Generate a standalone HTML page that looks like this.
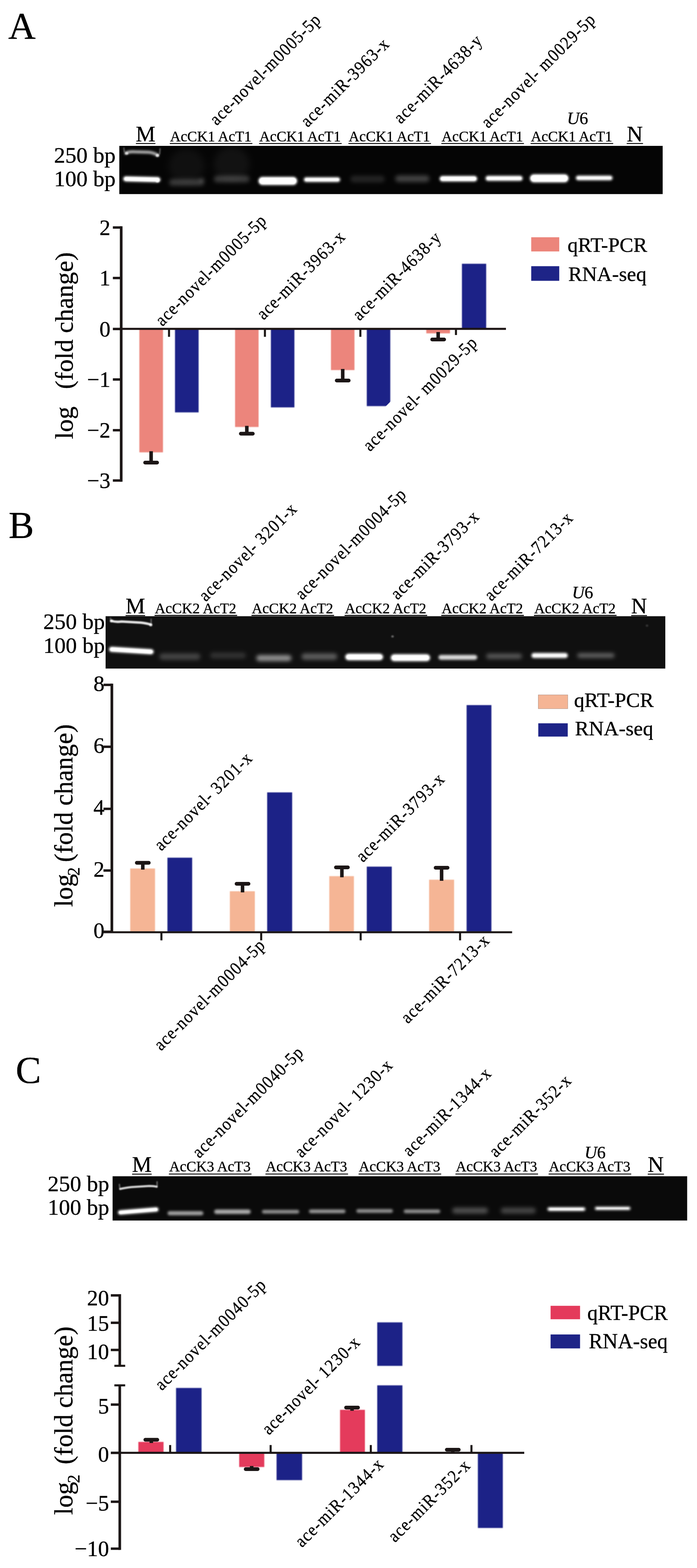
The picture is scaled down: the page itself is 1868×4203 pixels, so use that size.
<!DOCTYPE html>
<html lang="en">
<head>
<meta charset="utf-8">
<title>Figure: qRT-PCR and RNA-seq validation</title>
<style>
html,body{margin:0;padding:0;background:#fff;}
body{width:1868px;height:4203px;overflow:hidden;}
svg{display:block;}
svg text{font-family:"Liberation Serif","DejaVu Serif",serif;fill:#000;stroke:#000;stroke-width:0.5px;}
</style>
</head>
<body>
<svg width="1868" height="4203" viewBox="0 0 1868 4203">
<defs>
<filter id="b2" x="-2%" y="-20%" width="104%" height="140%"><feGaussianBlur stdDeviation="1.8"/></filter>
<filter id="b3" x="-2%" y="-20%" width="104%" height="140%"><feGaussianBlur stdDeviation="3"/></filter>
<filter id="b5" x="-2%" y="-20%" width="104%" height="140%"><feGaussianBlur stdDeviation="5.5"/></filter>
<filter id="b9" x="-2%" y="-20%" width="104%" height="140%"><feGaussianBlur stdDeviation="9"/></filter>
<filter id="e1" x="-5%" y="-5%" width="110%" height="110%"><feGaussianBlur stdDeviation="0.9"/></filter>
<filter id="e0" filterUnits="userSpaceOnUse" x="0" y="0" width="1868" height="4203"><feGaussianBlur stdDeviation="0.7"/></filter>
</defs>
<rect width="1868" height="4203" fill="#fff"/>
<text x="22.0" y="103.5" font-size="102" text-anchor="start">A</text>
<clipPath id="cgA"><rect x="319.5" y="391" width="1456.5" height="129.5"/></clipPath>
<g clip-path="url(#cgA)">
<rect x="319.5" y="391.0" width="1456.5" height="129.5" fill="#050505"/>
<g filter="url(#b9)"><rect x="319.5" y="391" width="1456.5" height="129.5" fill="none"/>
<rect x="452.0" y="400.0" width="96.0" height="90.0" rx="45.0" fill="#fff" opacity="0.045"/>
<rect x="573.0" y="395.0" width="96.0" height="90.0" rx="45.0" fill="#fff" opacity="0.05"/>
</g>
<g filter="url(#b5)"><rect x="319.5" y="391" width="1456.5" height="129.5" fill="none"/>
<rect x="453.0" y="480.0" width="94.0" height="18.0" rx="9.0" fill="#fff" opacity="0.2"/>
<rect x="534.0" y="476.0" width="14.0" height="14.0" rx="7.0" fill="#fff" opacity="0.14"/>
<rect x="573.0" y="471.0" width="96.0" height="18.0" rx="9.0" fill="#fff" opacity="0.2"/>
<rect x="939.0" y="471.0" width="92.0" height="18.0" rx="9.0" fill="#fff" opacity="0.12"/>
<rect x="1059.0" y="470.0" width="92.0" height="18.0" rx="9.0" fill="#fff" opacity="0.24"/>
</g>
<g filter="url(#b3)"><rect x="319.5" y="391" width="1456.5" height="129.5" fill="none"/>
<path d="M337 410.5 Q346 406 362 407 L398 408 Q412 409 422 416" fill="none" stroke="#fff" stroke-width="7" stroke-linecap="round" opacity="0.8"/>
<path d="M337 479.5 L423 481.5" fill="none" stroke="#fff" stroke-width="14" stroke-linecap="round" opacity="1"/>
<rect x="692.5" y="474.0" width="104.0" height="22.0" rx="11.0" fill="#fff" opacity="1"/>
<rect x="814.0" y="475.0" width="98.0" height="13.0" rx="6.5" fill="#fff" opacity="0.95"/>
<rect x="1178.0" y="471.5" width="101.0" height="15.0" rx="7.5" fill="#fff" opacity="1"/>
<rect x="1301.0" y="471.0" width="100.0" height="14.0" rx="7.0" fill="#fff" opacity="0.95"/>
<rect x="1420.0" y="467.0" width="104.0" height="22.0" rx="11.0" fill="#fff" opacity="1"/>
<rect x="1543.0" y="470.5" width="99.0" height="13.0" rx="6.5" fill="#fff" opacity="0.95"/>
</g>
<g filter="url(#b2)"><rect x="319.5" y="391" width="1456.5" height="129.5" fill="none"/>
<path d="M332 397 L333 406 M429 399 L428 412" fill="none" stroke="#fff" stroke-width="4" stroke-linecap="round" opacity="0.3"/>
<rect x="335.0" y="407.5" width="9.0" height="7.0" rx="3.5" fill="#fff" opacity="0.7"/>
<rect x="417.5" y="412.5" width="9.0" height="8.0" rx="4.0" fill="#fff" opacity="0.8"/>
<path d="M338 479.5 L422 481.5" fill="none" stroke="#fff" stroke-width="9" stroke-linecap="round" opacity="1"/>
<rect x="416.0" y="477.0" width="12.0" height="12.0" rx="6.0" fill="#fff" opacity="0.9"/>
<rect x="695.5" y="477.0" width="98.0" height="16.0" rx="8.0" fill="#fff" opacity="1"/>
<rect x="818.0" y="478.0" width="90.0" height="7.0" rx="3.5" fill="#fff" opacity="0.9"/>
<rect x="1181.5" y="474.5" width="94.0" height="9.0" rx="4.5" fill="#fff" opacity="1"/>
<rect x="1305.0" y="474.5" width="92.0" height="7.0" rx="3.5" fill="#fff" opacity="0.9"/>
<rect x="1423.0" y="470.0" width="98.0" height="16.0" rx="8.0" fill="#fff" opacity="1"/>
<rect x="1547.5" y="474.0" width="90.0" height="6.0" rx="3.0" fill="#fff" opacity="0.8"/>
</g>
</g>
<text x="309.7" y="436.4" font-size="60" text-anchor="end">250 bp</text>
<text x="309.7" y="499.4" font-size="60" text-anchor="end">100 bp</text>
<text x="364.0" y="378.6" font-size="59" text-anchor="start">M</text>
<line x1="364.2" y1="384.8" x2="416.6" y2="384.8" stroke="#0a0a0a" stroke-width="2.6"/>
<text x="1680.0" y="378.6" font-size="59" text-anchor="start">N</text>
<line x1="1679.6" y1="384.8" x2="1723.3" y2="384.8" stroke="#0a0a0a" stroke-width="2.6"/>
<text x="455.8" y="379.0" font-size="39.5" text-anchor="start">AcCK1 AcT1</text>
<line x1="455.0" y1="384.8" x2="676.4" y2="384.8" stroke="#0a0a0a" stroke-width="2.6"/>
<text x="695.1" y="379.0" font-size="39.5" text-anchor="start">AcCK1 AcT1</text>
<line x1="694.3" y1="384.8" x2="915.7" y2="384.8" stroke="#0a0a0a" stroke-width="2.6"/>
<text x="934.5" y="379.0" font-size="39.5" text-anchor="start">AcCK1 AcT1</text>
<line x1="933.7" y1="384.8" x2="1155.1" y2="384.8" stroke="#0a0a0a" stroke-width="2.6"/>
<text x="1183.6" y="379.0" font-size="39.5" text-anchor="start">AcCK1 AcT1</text>
<line x1="1182.8" y1="384.8" x2="1404.2" y2="384.8" stroke="#0a0a0a" stroke-width="2.6"/>
<text x="1422.8" y="379.0" font-size="39.5" text-anchor="start">AcCK1 AcT1</text>
<line x1="1422.0" y1="384.8" x2="1643.4" y2="384.8" stroke="#0a0a0a" stroke-width="2.6"/>
<text x="1519.5" y="333.2" font-size="46.5" text-anchor="start"><tspan font-style="italic">U</tspan>6</text>
<text transform="translate(580.0 338.7) rotate(-45) scale(0.9 1)" font-size="48" x="1.2 24.9 48.5 71.9 90.1 116.8 143.4 170.0 193.2 208.2 227.1 267.8 294.5 321.2 347.8 374.1 392.3 418.9" y="0" stroke-width="0.6">ace-novel-m0005-5p</text>
<text transform="translate(823.8 343.6) rotate(-45) scale(0.9 1)" font-size="48" x="1.2 24.9 48.5 71.9 90.9 131.0 146.9 181.5 199.7 226.4 253.1 279.7 306.0 324.2" y="0" stroke-width="0.6">ace-miR-3963-x</text>
<text transform="translate(1073.3 334.4) rotate(-45) scale(0.9 1)" font-size="48" x="1.2 24.9 48.5 71.9 90.9 131.0 146.9 181.5 199.7 226.4 253.1 279.7 306.0 324.2" y="0" stroke-width="0.6">ace-miR-4638-y</text>
<text transform="translate(1307.5 346.3) rotate(-45) scale(0.9 1)" font-size="48" x="1.2 24.9 48.5 71.9 90.1 116.8 143.4 170.0 193.2 208.2 225.7 240.4 281.2 307.8 334.5 361.2 387.4 405.6 432.3" y="0" stroke-width="0.6">ace-novel- m0029-5p</text>
<text x="296.0" y="629.6" font-size="59" text-anchor="end">2</text>
<text x="296.0" y="765.0" font-size="59" text-anchor="end">1</text>
<text x="296.0" y="901.6" font-size="59" text-anchor="end">0</text>
<text x="296.0" y="1037.0" font-size="59" text-anchor="end">−1</text>
<text x="296.0" y="1173.0" font-size="59" text-anchor="end">−2</text>
<text x="296.0" y="1307.8" font-size="59" text-anchor="end">−3</text>
<text transform="translate(195.3 1177.0) rotate(-90)" font-size="68.5" text-anchor="start">log</text>
<text transform="translate(195.3 1043.0) rotate(-90)" font-size="68.5" text-anchor="start">(fold change)</text>
<g filter="url(#e0)">
<line x1="324.8" y1="606.5" x2="324.8" y2="1291.2" stroke="#1c1715" stroke-width="7.2" stroke-linecap="butt"/>
<line x1="302.5" y1="609.8" x2="324.8" y2="609.8" stroke="#1c1715" stroke-width="6.5" stroke-linecap="butt"/>
<line x1="302.5" y1="745.2" x2="324.8" y2="745.2" stroke="#1c1715" stroke-width="6.5" stroke-linecap="butt"/>
<line x1="302.5" y1="881.8" x2="324.8" y2="881.8" stroke="#1c1715" stroke-width="6.5" stroke-linecap="butt"/>
<line x1="302.5" y1="1017.2" x2="324.8" y2="1017.2" stroke="#1c1715" stroke-width="6.5" stroke-linecap="butt"/>
<line x1="302.5" y1="1153.2" x2="324.8" y2="1153.2" stroke="#1c1715" stroke-width="6.5" stroke-linecap="butt"/>
<line x1="302.5" y1="1288.0" x2="324.8" y2="1288.0" stroke="#1c1715" stroke-width="6.5" stroke-linecap="butt"/>
</g>
<g filter="url(#e1)">
<rect x="373.5" y="881.8" width="63.3" height="330.7" fill="#ec857b"/>
<rect x="469.0" y="881.8" width="63.3" height="223.6" fill="#1e2487"/>
<rect x="630.0" y="881.8" width="63.0" height="262.7" fill="#ec857b"/>
<rect x="726.0" y="881.8" width="63.0" height="210.2" fill="#1e2487"/>
<rect x="887.0" y="881.8" width="63.0" height="110.2" fill="#ec857b"/>
<rect x="983.0" y="881.8" width="63.0" height="206.8" fill="#1e2487"/>
<rect x="1142.5" y="881.8" width="63.5" height="11.7" fill="#ec857b"/>
<rect x="1238.0" y="707.0" width="65.0" height="174.8" fill="#1e2487"/>
</g>
<g filter="url(#e0)">
<line x1="324.8" y1="881.5" x2="1356.0" y2="881.5" stroke="#1c1715" stroke-width="5.6" stroke-linecap="butt"/>
<line x1="453.0" y1="881.8" x2="453.0" y2="902.8" stroke="#1c1715" stroke-width="5.5" stroke-linecap="butt"/>
<line x1="710.0" y1="881.8" x2="710.0" y2="902.8" stroke="#1c1715" stroke-width="5.5" stroke-linecap="butt"/>
<line x1="965.8" y1="881.8" x2="965.8" y2="902.8" stroke="#1c1715" stroke-width="5.5" stroke-linecap="butt"/>
<line x1="1222.0" y1="881.8" x2="1222.0" y2="902.8" stroke="#1c1715" stroke-width="5.5" stroke-linecap="butt"/>
<line x1="405.0" y1="1209.5" x2="405.0" y2="1240.0" stroke="#1c1715" stroke-width="9.5" stroke-linecap="butt"/>
<line x1="389.0" y1="1240.0" x2="421.0" y2="1240.0" stroke="#1c1715" stroke-width="10" stroke-linecap="round"/>
<line x1="661.5" y1="1141.5" x2="661.5" y2="1162.5" stroke="#1c1715" stroke-width="9.5" stroke-linecap="butt"/>
<line x1="645.5" y1="1162.5" x2="677.5" y2="1162.5" stroke="#1c1715" stroke-width="10" stroke-linecap="round"/>
<line x1="918.5" y1="989.0" x2="918.5" y2="1020.0" stroke="#1c1715" stroke-width="9.5" stroke-linecap="butt"/>
<line x1="902.5" y1="1020.0" x2="934.5" y2="1020.0" stroke="#1c1715" stroke-width="10" stroke-linecap="round"/>
<line x1="1174.3" y1="890.0" x2="1174.3" y2="910.0" stroke="#1c1715" stroke-width="9.5" stroke-linecap="butt"/>
<line x1="1158.3" y1="910.0" x2="1190.3" y2="910.0" stroke="#1c1715" stroke-width="10" stroke-linecap="round"/>
</g>
<text transform="translate(434.5 876.9) rotate(-45) scale(0.9 1)" font-size="48" x="1.2 24.9 48.5 71.9 90.1 116.8 143.4 170.0 193.2 208.2 227.1 267.8 294.5 321.2 347.8 374.1 392.3 418.9" y="0" stroke-width="0.6">ace-novel-m0005-5p</text>
<text transform="translate(705.7 860.1) rotate(-45) scale(0.9 1)" font-size="48" x="1.2 24.9 48.5 71.9 90.9 131.0 146.9 181.5 199.7 226.4 253.1 279.7 306.0 324.2" y="0" stroke-width="0.6">ace-miR-3963-x</text>
<text transform="translate(962.7 862.3) rotate(-45) scale(0.9 1)" font-size="48" x="1.2 24.9 48.5 71.9 90.9 131.0 146.9 181.5 199.7 226.4 253.1 279.7 306.0 324.2" y="0" stroke-width="0.6">ace-miR-4638-y</text>
<polygon points="954,1169 1197,926 1197,898 1300,898 1300,950 1016,1234" fill="#fff"/>
<text transform="translate(1281.9 921.4) rotate(-45) scale(0.9 1)" font-size="48" x="-456.4 -432.7 -409.1 -385.7 -367.5 -340.8 -314.2 -287.6 -264.4 -249.5 -231.9 -217.2 -176.4 -149.8 -123.1 -96.4 -70.2 -52.0 -25.3" y="0" stroke-width="0.6">ace-novel- m0029-5p</text>
<rect x="1423.7" y="636.0" width="75.1" height="38.0" fill="#ec857b"/>
<rect x="1423.7" y="713.5" width="75.1" height="39.2" fill="#1e2487"/>
<text x="1521.0" y="675.0" font-size="55.5" text-anchor="start">qRT-PCR</text>
<text x="1523.0" y="752.7" font-size="55.5" text-anchor="start">RNA-seq</text>
<text x="23.0" y="1442.4" font-size="102" text-anchor="start">B</text>
<clipPath id="cgB"><rect x="283" y="1651.5" width="1500.2" height="140.7"/></clipPath>
<g clip-path="url(#cgB)">
<rect x="283.0" y="1651.5" width="1500.2" height="140.7" fill="#101010"/>
<g filter="url(#b5)"><rect x="283" y="1651.5" width="1500" height="140.0" fill="none"/>
<rect x="427.0" y="1751.5" width="110.0" height="17.0" rx="8.5" fill="#fff" opacity="0.22"/>
<rect x="563.0" y="1749.0" width="96.0" height="16.0" rx="8.0" fill="#fff" opacity="0.14"/>
<rect x="687.0" y="1756.0" width="94.0" height="16.0" rx="8.0" fill="#fff" opacity="0.55"/>
<rect x="808.0" y="1751.5" width="96.0" height="17.0" rx="8.5" fill="#fff" opacity="0.32"/>
<rect x="1303.0" y="1752.0" width="96.0" height="14.0" rx="7.0" fill="#fff" opacity="0.3"/>
<rect x="1547.0" y="1751.0" width="100.0" height="12.0" rx="6.0" fill="#fff" opacity="0.36"/>
</g>
<g filter="url(#b3)"><rect x="283" y="1651.5" width="1500" height="140.0" fill="none"/>
<path d="M299 1740.5 L405 1747" fill="none" stroke="#fff" stroke-width="14" stroke-linecap="round" opacity="1"/>
<rect x="925.0" y="1752.0" width="102.0" height="18.0" rx="9.0" fill="#fff" opacity="1"/>
<rect x="1047.0" y="1753.5" width="106.0" height="19.0" rx="9.5" fill="#fff" opacity="1"/>
<rect x="1175.0" y="1755.5" width="104.0" height="13.0" rx="6.5" fill="#fff" opacity="0.85"/>
<rect x="1424.0" y="1750.0" width="98.0" height="14.0" rx="7.0" fill="#fff" opacity="0.95"/>
</g>
<g filter="url(#b2)"><rect x="283" y="1651.5" width="1500" height="140.0" fill="none"/>
<path d="M296 1657 L297 1664 M405 1660 L405 1672" fill="none" stroke="#fff" stroke-width="4" stroke-linecap="round" opacity="0.3"/>
<path d="M298 1664 Q310 1668 326 1666 L378 1669 Q394 1671 404 1674" fill="none" stroke="#fff" stroke-width="6.5" stroke-linecap="round" opacity="0.9"/>
<rect x="294.5" y="1660.5" width="9.0" height="8.0" rx="4.0" fill="#fff" opacity="0.7"/>
<rect x="399.5" y="1671.0" width="9.0" height="8.0" rx="4.0" fill="#fff" opacity="0.7"/>
<path d="M300 1740.5 L404 1747" fill="none" stroke="#fff" stroke-width="9" stroke-linecap="round" opacity="1"/>
<rect x="929.0" y="1755.5" width="94.0" height="11.0" rx="5.5" fill="#fff" opacity="1"/>
<rect x="1051.0" y="1757.0" width="98.0" height="12.0" rx="6.0" fill="#fff" opacity="1"/>
<rect x="1429.0" y="1754.0" width="88.0" height="6.0" rx="3.0" fill="#fff" opacity="0.7"/>
<rect x="1048.5" y="1703.0" width="7.0" height="6.0" rx="3.0" fill="#fff" opacity="0.35"/>
<rect x="1730.5" y="1674.0" width="7.0" height="6.0" rx="3.0" fill="#fff" opacity="0.15"/>
</g>
</g>
<text x="280.9" y="1685.9" font-size="60" text-anchor="end">250 bp</text>
<text x="280.9" y="1749.6" font-size="60" text-anchor="end">100 bp</text>
<text x="336.5" y="1643.5" font-size="59" text-anchor="start">M</text>
<line x1="336.5" y1="1650.0" x2="389.0" y2="1650.0" stroke="#0a0a0a" stroke-width="2.6"/>
<text x="1691.6" y="1643.5" font-size="59" text-anchor="start">N</text>
<line x1="1691.6" y1="1650.0" x2="1734.0" y2="1650.0" stroke="#0a0a0a" stroke-width="2.6"/>
<text x="415.0" y="1643.5" font-size="39.5" text-anchor="start">AcCK2 AcT2</text>
<line x1="414.2" y1="1649.6" x2="635.6" y2="1649.6" stroke="#0a0a0a" stroke-width="2.6"/>
<text x="674.8" y="1643.5" font-size="39.5" text-anchor="start">AcCK2 AcT2</text>
<line x1="674.0" y1="1649.6" x2="895.4" y2="1649.6" stroke="#0a0a0a" stroke-width="2.6"/>
<text x="924.3" y="1643.5" font-size="39.5" text-anchor="start">AcCK2 AcT2</text>
<line x1="923.5" y1="1649.6" x2="1144.9" y2="1649.6" stroke="#0a0a0a" stroke-width="2.6"/>
<text x="1183.4" y="1643.5" font-size="39.5" text-anchor="start">AcCK2 AcT2</text>
<line x1="1182.6" y1="1649.6" x2="1404.0" y2="1649.6" stroke="#0a0a0a" stroke-width="2.6"/>
<text x="1431.8" y="1643.5" font-size="39.5" text-anchor="start">AcCK2 AcT2</text>
<line x1="1431.0" y1="1649.6" x2="1652.4" y2="1649.6" stroke="#0a0a0a" stroke-width="2.6"/>
<text x="1533.0" y="1604.3" font-size="46.5" text-anchor="start"><tspan font-style="italic">U</tspan>6</text>
<text transform="translate(550.7 1614.9) rotate(-45) scale(0.9 1)" font-size="48" x="1.2 24.9 48.5 71.9 90.1 116.8 143.4 170.0 193.2 208.2 225.7 239.7 266.4 293.0 319.7 345.9 364.1" y="0" stroke-width="0.6">ace-novel- 3201-x</text>
<text transform="translate(809.0 1610.5) rotate(-45) scale(0.9 1)" font-size="48" x="1.2 24.9 48.5 71.9 90.1 116.8 143.4 170.0 193.2 208.2 227.1 267.8 294.5 321.2 347.8 374.1 392.3 418.9" y="0" stroke-width="0.6">ace-novel-m0004-5p</text>
<text transform="translate(1064.7 1610.2) rotate(-45) scale(0.9 1)" font-size="48" x="1.2 24.9 48.5 71.9 90.9 131.0 146.9 181.5 199.7 226.4 253.1 279.7 306.0 324.2" y="0" stroke-width="0.6">ace-miR-3793-x</text>
<text transform="translate(1316.0 1613.7) rotate(-45) scale(0.9 1)" font-size="48" x="1.2 24.9 48.5 71.9 90.9 131.0 146.9 181.5 199.7 226.4 253.1 279.7 306.0 324.2" y="0" stroke-width="0.6">ace-miR-7213-x</text>
<text x="280.0" y="1852.0" font-size="59" text-anchor="end">8</text>
<text x="280.0" y="2017.9" font-size="59" text-anchor="end">6</text>
<text x="280.0" y="2184.3" font-size="59" text-anchor="end">4</text>
<text x="280.0" y="2349.6" font-size="59" text-anchor="end">2</text>
<text x="280.0" y="2513.8" font-size="59" text-anchor="end">0</text>
<text transform="translate(194.3 2431.0) rotate(-90)" font-size="69" text-anchor="start">log</text>
<text transform="translate(213.0 2347.5) rotate(-90)" font-size="46" text-anchor="start">2</text>
<text transform="translate(194.3 2311.0) rotate(-90)" font-size="69" text-anchor="start">(fold change)</text>
<g filter="url(#e0)">
<line x1="299.8" y1="1832.5" x2="299.8" y2="2500.8" stroke="#1c1715" stroke-width="7.2" stroke-linecap="butt"/>
<line x1="277.3" y1="1835.8" x2="299.8" y2="1835.8" stroke="#1c1715" stroke-width="6.5" stroke-linecap="butt"/>
<line x1="277.3" y1="2001.7" x2="299.8" y2="2001.7" stroke="#1c1715" stroke-width="6.5" stroke-linecap="butt"/>
<line x1="277.3" y1="2168.1" x2="299.8" y2="2168.1" stroke="#1c1715" stroke-width="6.5" stroke-linecap="butt"/>
<line x1="277.3" y1="2333.4" x2="299.8" y2="2333.4" stroke="#1c1715" stroke-width="6.5" stroke-linecap="butt"/>
<line x1="277.3" y1="2497.6" x2="299.8" y2="2497.6" stroke="#1c1715" stroke-width="6.5" stroke-linecap="butt"/>
</g>
<g filter="url(#e1)">
<rect x="349.0" y="2328.0" width="66.5" height="169.6" fill="#f5b595"/>
<rect x="448.7" y="2299.0" width="66.3" height="198.6" fill="#1e2487"/>
<rect x="616.0" y="2389.0" width="67.0" height="108.6" fill="#f5b595"/>
<rect x="716.0" y="2124.0" width="67.0" height="373.6" fill="#1e2487"/>
<rect x="882.5" y="2348.5" width="66.0" height="149.1" fill="#f5b595"/>
<rect x="983.0" y="2323.0" width="67.0" height="174.6" fill="#1e2487"/>
<rect x="1150.0" y="2358.0" width="67.0" height="139.6" fill="#f5b595"/>
<rect x="1250.5" y="1890.0" width="66.5" height="607.6" fill="#1e2487"/>
</g>
<g filter="url(#e0)">
<line x1="277.3" y1="2498.8" x2="1372.5" y2="2498.8" stroke="#1c1715" stroke-width="5.2" stroke-linecap="butt"/>
<line x1="432.6" y1="2497.6" x2="432.6" y2="2520.6" stroke="#1c1715" stroke-width="5.5" stroke-linecap="butt"/>
<line x1="700.0" y1="2497.6" x2="700.0" y2="2520.6" stroke="#1c1715" stroke-width="5.5" stroke-linecap="butt"/>
<line x1="966.6" y1="2497.6" x2="966.6" y2="2520.6" stroke="#1c1715" stroke-width="5.5" stroke-linecap="butt"/>
<line x1="1233.0" y1="2497.6" x2="1233.0" y2="2520.6" stroke="#1c1715" stroke-width="5.5" stroke-linecap="butt"/>
<line x1="382.7" y1="2331.0" x2="382.7" y2="2312.8" stroke="#1c1715" stroke-width="9.5" stroke-linecap="butt"/>
<line x1="366.7" y1="2312.8" x2="398.7" y2="2312.8" stroke="#1c1715" stroke-width="10" stroke-linecap="round"/>
<line x1="650.0" y1="2392.0" x2="650.0" y2="2369.0" stroke="#1c1715" stroke-width="9.5" stroke-linecap="butt"/>
<line x1="634.0" y1="2369.0" x2="666.0" y2="2369.0" stroke="#1c1715" stroke-width="10" stroke-linecap="round"/>
<line x1="916.3" y1="2351.5" x2="916.3" y2="2325.0" stroke="#1c1715" stroke-width="9.5" stroke-linecap="butt"/>
<line x1="900.3" y1="2325.0" x2="932.3" y2="2325.0" stroke="#1c1715" stroke-width="10" stroke-linecap="round"/>
<line x1="1183.5" y1="2361.0" x2="1183.5" y2="2326.0" stroke="#1c1715" stroke-width="9.5" stroke-linecap="butt"/>
<line x1="1167.5" y1="2326.0" x2="1199.5" y2="2326.0" stroke="#1c1715" stroke-width="10" stroke-linecap="round"/>
</g>
<text transform="translate(431.4 2283.3) rotate(-45) scale(0.9 1)" font-size="48" x="1.2 24.9 48.5 71.9 90.1 116.8 143.4 170.0 193.2 208.2 225.7 239.7 266.4 293.0 319.7 345.9 364.1" y="0" stroke-width="0.6">ace-novel- 3201-x</text>
<text transform="translate(971.9 2313.8) rotate(-45) scale(0.9 1)" font-size="48" x="1.2 24.9 48.5 71.9 90.9 131.0 146.9 181.5 199.7 226.4 253.1 279.7 306.0 324.2" y="0" stroke-width="0.6">ace-miR-3793-x</text>
<text transform="translate(713.4 2536.3) rotate(-45) scale(0.9 1)" font-size="48" x="-443.1 -419.4 -395.7 -372.4 -354.2 -327.5 -300.8 -274.3 -251.1 -236.1 -217.2 -176.4 -149.8 -123.1 -96.4 -70.2 -52.0 -25.3" y="0" stroke-width="0.6">ace-novel-m0004-5p</text>
<text transform="translate(1314.7 2523.8) rotate(-45) scale(0.9 1)" font-size="48" x="-348.3 -324.6 -301.0 -277.6 -258.7 -218.5 -202.6 -168.0 -149.8 -123.1 -96.4 -69.8 -43.5 -25.3" y="0" stroke-width="0.6">ace-miR-7213-x</text>
<rect x="1442.6" y="1862.6" width="79.0" height="37.0" fill="#f5b595" stroke="#b89a8c" stroke-width="1.2"/>
<rect x="1442.6" y="1938.8" width="79.0" height="35.6" fill="#1e2487"/>
<text x="1538.5" y="1895.0" font-size="55.5" text-anchor="start">qRT-PCR</text>
<text x="1541.0" y="1971.0" font-size="55.5" text-anchor="start">RNA-seq</text>
<text x="42.0" y="2902.6" font-size="102" text-anchor="start">C</text>
<clipPath id="cgC"><rect x="301.5" y="3152.8" width="1540.3" height="119"/></clipPath>
<g clip-path="url(#cgC)">
<rect x="301.5" y="3152.8" width="1540.3" height="119.0" fill="#0a0a0a"/>
<g filter="url(#b5)"><rect x="301.5" y="3152.8" width="1540.3" height="119.0" fill="none"/>
<rect x="1212.0" y="3237.0" width="96.0" height="16.0" rx="8.0" fill="#fff" opacity="0.28"/>
<rect x="1342.0" y="3237.0" width="94.0" height="16.0" rx="8.0" fill="#fff" opacity="0.24"/>
</g>
<g filter="url(#b3)"><rect x="301.5" y="3152.8" width="1540.3" height="119.0" fill="none"/>
<path d="M322 3250 L419 3242" fill="none" stroke="#fff" stroke-width="12" stroke-linecap="round" opacity="1"/>
<rect x="449.0" y="3246.5" width="96.0" height="11.0" rx="5.5" fill="#fff" opacity="0.62"/>
<rect x="574.0" y="3242.0" width="98.0" height="12.0" rx="6.0" fill="#fff" opacity="0.66"/>
<rect x="702.0" y="3243.0" width="100.0" height="10.0" rx="5.0" fill="#fff" opacity="0.55"/>
<rect x="828.0" y="3242.0" width="98.0" height="10.0" rx="5.0" fill="#fff" opacity="0.58"/>
<rect x="955.0" y="3241.0" width="98.0" height="10.0" rx="5.0" fill="#fff" opacity="0.55"/>
<rect x="1082.0" y="3242.0" width="98.0" height="10.0" rx="5.0" fill="#fff" opacity="0.55"/>
<rect x="1467.0" y="3236.0" width="102.0" height="10.0" rx="5.0" fill="#fff" opacity="0.95"/>
<rect x="1594.0" y="3234.5" width="96.0" height="9.0" rx="4.5" fill="#fff" opacity="0.9"/>
</g>
<g filter="url(#b2)"><rect x="301.5" y="3152.8" width="1540.3" height="119.0" fill="none"/>
<path d="M320 3175 L321 3184 M421 3168 L421 3178" fill="none" stroke="#fff" stroke-width="4" stroke-linecap="round" opacity="0.35"/>
<path d="M322 3187 Q335 3184 352 3182 L400 3179 Q412 3179 420 3181" fill="none" stroke="#fff" stroke-width="5.5" stroke-linecap="round" opacity="0.85"/>
<path d="M323 3250 L418 3242" fill="none" stroke="#fff" stroke-width="7" stroke-linecap="round" opacity="1"/>
<rect x="1473.0" y="3238.5" width="90.0" height="5.0" rx="2.5" fill="#fff" opacity="0.8"/>
<rect x="1599.0" y="3237.0" width="86.0" height="4.0" rx="2.0" fill="#fff" opacity="0.7"/>
</g>
</g>
<text x="292.7" y="3193.3" font-size="60" text-anchor="end">250 bp</text>
<text x="292.7" y="3256.3" font-size="60" text-anchor="end">100 bp</text>
<text x="354.0" y="3140.6" font-size="59" text-anchor="start">M</text>
<line x1="354.0" y1="3147.2" x2="406.5" y2="3147.2" stroke="#0a0a0a" stroke-width="2.6"/>
<text x="1736.0" y="3140.6" font-size="59" text-anchor="start">N</text>
<line x1="1736.0" y1="3147.2" x2="1779.5" y2="3147.2" stroke="#0a0a0a" stroke-width="2.6"/>
<text x="453.4" y="3140.0" font-size="39.5" text-anchor="start">AcCK3 AcT3</text>
<line x1="452.6" y1="3147.0" x2="674.0" y2="3147.0" stroke="#0a0a0a" stroke-width="2.6"/>
<text x="712.2" y="3140.0" font-size="39.5" text-anchor="start">AcCK3 AcT3</text>
<line x1="711.4" y1="3147.0" x2="932.8" y2="3147.0" stroke="#0a0a0a" stroke-width="2.6"/>
<text x="961.8" y="3140.0" font-size="39.5" text-anchor="start">AcCK3 AcT3</text>
<line x1="961.0" y1="3147.0" x2="1182.4" y2="3147.0" stroke="#0a0a0a" stroke-width="2.6"/>
<text x="1221.4" y="3140.0" font-size="39.5" text-anchor="start">AcCK3 AcT3</text>
<line x1="1220.6" y1="3147.0" x2="1442.0" y2="3147.0" stroke="#0a0a0a" stroke-width="2.6"/>
<text x="1471.1" y="3140.0" font-size="39.5" text-anchor="start">AcCK3 AcT3</text>
<line x1="1470.3" y1="3147.0" x2="1691.7" y2="3147.0" stroke="#0a0a0a" stroke-width="2.6"/>
<text x="1566.5" y="3105.0" font-size="46.5" text-anchor="start"><tspan font-style="italic">U</tspan>6</text>
<text transform="translate(533.3 3106.9) rotate(-45) scale(0.9 1)" font-size="48" x="1.2 24.9 48.5 71.9 90.1 116.8 143.4 170.0 193.2 208.2 227.1 267.8 294.5 321.2 347.8 374.1 392.3 418.9" y="0" stroke-width="0.6">ace-novel-m0040-5p</text>
<text transform="translate(807.4 3106.1) rotate(-45) scale(0.9 1)" font-size="48" x="1.2 24.9 48.5 71.9 90.1 116.8 143.4 170.0 193.2 208.2 225.7 239.7 266.4 293.0 319.7 345.9 364.1" y="0" stroke-width="0.6">ace-novel- 1230-x</text>
<text transform="translate(1097.1 3102.8) rotate(-45) scale(0.9 1)" font-size="48" x="1.2 24.9 48.5 71.9 90.9 131.0 146.9 181.5 199.7 226.4 253.1 279.7 306.0 324.2" y="0" stroke-width="0.6">ace-miR-1344-x</text>
<text transform="translate(1328.6 3105.0) rotate(-45) scale(0.9 1)" font-size="48" x="1.2 24.9 48.5 71.9 90.9 131.0 146.9 181.5 199.7 226.4 253.1 279.3 297.5" y="0" stroke-width="0.6">ace-miR-352-x</text>
<text x="292.2" y="3498.5" font-size="59" text-anchor="end">20</text>
<text x="292.2" y="3566.6" font-size="59" text-anchor="end">15</text>
<text x="292.2" y="3642.6" font-size="59" text-anchor="end">10</text>
<text x="292.2" y="3789.0" font-size="59" text-anchor="end">5</text>
<text x="292.2" y="3917.6" font-size="59" text-anchor="end">0</text>
<text x="292.2" y="4048.6" font-size="59" text-anchor="end">−5</text>
<text x="292.2" y="4170.8" font-size="59" text-anchor="end">−10</text>
<text transform="translate(194.3 4060.5) rotate(-90)" font-size="69" text-anchor="start">log</text>
<text transform="translate(213.0 3975.5) rotate(-90)" font-size="46" text-anchor="start">2</text>
<text transform="translate(194.3 3925.3) rotate(-90)" font-size="69" text-anchor="start">(fold change)</text>
<g filter="url(#e0)">
<line x1="321.0" y1="3469.1" x2="321.0" y2="3661.0" stroke="#1c1715" stroke-width="7" stroke-linecap="butt"/>
<line x1="306.5" y1="3661.0" x2="335.5" y2="3661.0" stroke="#1c1715" stroke-width="5.5" stroke-linecap="butt"/>
<line x1="306.5" y1="3713.4" x2="335.5" y2="3713.4" stroke="#1c1715" stroke-width="5.5" stroke-linecap="butt"/>
<line x1="321.0" y1="3713.4" x2="321.0" y2="4154.4" stroke="#1c1715" stroke-width="7" stroke-linecap="butt"/>
<line x1="297.0" y1="3472.3" x2="321.0" y2="3472.3" stroke="#1c1715" stroke-width="6.5" stroke-linecap="butt"/>
<line x1="297.0" y1="3545.7" x2="321.0" y2="3545.7" stroke="#1c1715" stroke-width="6.5" stroke-linecap="butt"/>
<line x1="297.0" y1="3618.5" x2="321.0" y2="3618.5" stroke="#1c1715" stroke-width="6.5" stroke-linecap="butt"/>
<line x1="297.0" y1="3765.0" x2="321.0" y2="3765.0" stroke="#1c1715" stroke-width="6.5" stroke-linecap="butt"/>
<line x1="297.0" y1="3894.4" x2="321.0" y2="3894.4" stroke="#1c1715" stroke-width="6.5" stroke-linecap="butt"/>
<line x1="297.0" y1="4025.4" x2="321.0" y2="4025.4" stroke="#1c1715" stroke-width="6.5" stroke-linecap="butt"/>
<line x1="297.0" y1="4151.2" x2="321.0" y2="4151.2" stroke="#1c1715" stroke-width="6.5" stroke-linecap="butt"/>
</g>
<g filter="url(#e1)">
<rect x="370.8" y="3865.0" width="67.5" height="29.4" fill="#e43a5b"/>
<rect x="471.8" y="3720.4" width="68.4" height="174.0" fill="#1e2487"/>
<rect x="641.0" y="3894.4" width="67.3" height="37.9" fill="#e43a5b"/>
<rect x="741.2" y="3894.4" width="68.4" height="73.1" fill="#1e2487"/>
<rect x="911.3" y="3779.0" width="66.7" height="115.4" fill="#e43a5b"/>
<rect x="1011.0" y="3713.4" width="67.5" height="181.0" fill="#1e2487"/>
<rect x="1280.7" y="3894.4" width="66.9" height="201.3" fill="#1e2487"/>
<rect x="1011.0" y="3544.6" width="67.5" height="116.6" fill="#1e2487"/>
</g>
<g filter="url(#e0)">
<line x1="299.0" y1="3894.3" x2="1405.0" y2="3894.3" stroke="#1c1715" stroke-width="5.6" stroke-linecap="butt"/>
<line x1="456.0" y1="3894.4" x2="456.0" y2="3873.4" stroke="#1c1715" stroke-width="5.5" stroke-linecap="butt"/>
<line x1="725.3" y1="3894.4" x2="725.3" y2="3873.4" stroke="#1c1715" stroke-width="5.5" stroke-linecap="butt"/>
<line x1="993.8" y1="3894.4" x2="993.8" y2="3873.4" stroke="#1c1715" stroke-width="5.5" stroke-linecap="butt"/>
<line x1="1263.5" y1="3894.4" x2="1263.5" y2="3873.4" stroke="#1c1715" stroke-width="5.5" stroke-linecap="butt"/>
<line x1="405.5" y1="3868.0" x2="405.5" y2="3859.3" stroke="#1c1715" stroke-width="9.5" stroke-linecap="butt"/>
<line x1="389.5" y1="3859.3" x2="421.5" y2="3859.3" stroke="#1c1715" stroke-width="10" stroke-linecap="round"/>
<line x1="674.5" y1="3929.6" x2="674.5" y2="3938.0" stroke="#1c1715" stroke-width="9.5" stroke-linecap="butt"/>
<line x1="658.5" y1="3938.0" x2="690.5" y2="3938.0" stroke="#1c1715" stroke-width="10" stroke-linecap="round"/>
<line x1="943.5" y1="3781.5" x2="943.5" y2="3773.0" stroke="#1c1715" stroke-width="9.5" stroke-linecap="butt"/>
<line x1="927.5" y1="3773.0" x2="959.5" y2="3773.0" stroke="#1c1715" stroke-width="10" stroke-linecap="round"/>
<line x1="1213.5" y1="3893.0" x2="1213.5" y2="3886.0" stroke="#1c1715" stroke-width="9.5" stroke-linecap="butt"/>
<line x1="1197.5" y1="3886.0" x2="1229.5" y2="3886.0" stroke="#1c1715" stroke-width="10" stroke-linecap="round"/>
</g>
<text transform="translate(433.1 3729.7) rotate(-45) scale(0.9 1)" font-size="48" x="1.2 24.9 48.5 71.9 90.1 116.8 143.4 170.0 193.2 208.2 227.1 267.8 294.5 321.2 347.8 374.1 392.3 418.9" y="0" stroke-width="0.6">ace-novel-m0040-5p</text>
<text transform="translate(720.0 3848.7) rotate(-45) scale(0.9 1)" font-size="48" x="1.2 24.9 48.5 71.9 90.1 116.8 143.4 170.0 193.2 208.2 225.7 239.7 266.4 293.0 319.7 345.9 364.1" y="0" stroke-width="0.6">ace-novel- 1230-x</text>
<text transform="translate(1030.8 3927.9) rotate(-45) scale(0.9 1)" font-size="48" x="-348.3 -324.6 -301.0 -277.6 -258.7 -218.5 -202.6 -168.0 -149.8 -123.1 -96.4 -69.8 -43.5 -25.3" y="0" stroke-width="0.6">ace-miR-1344-x</text>
<text transform="translate(1263.3 3931.3) rotate(-45) scale(0.9 1)" font-size="48" x="-321.7 -298.0 -274.3 -250.9 -232.0 -191.8 -176.0 -141.3 -123.1 -96.4 -69.8 -43.5 -25.3" y="0" stroke-width="0.6">ace-miR-352-x</text>
<rect x="1475.6" y="3500.2" width="79.0" height="36.0" fill="#e43a5b"/>
<rect x="1475.6" y="3577.0" width="79.0" height="37.4" fill="#1e2487"/>
<text x="1574.0" y="3537.6" font-size="56" text-anchor="start">qRT-PCR</text>
<text x="1578.0" y="3614.0" font-size="56" text-anchor="start">RNA-seq</text>
</svg>
</body>
</html>
